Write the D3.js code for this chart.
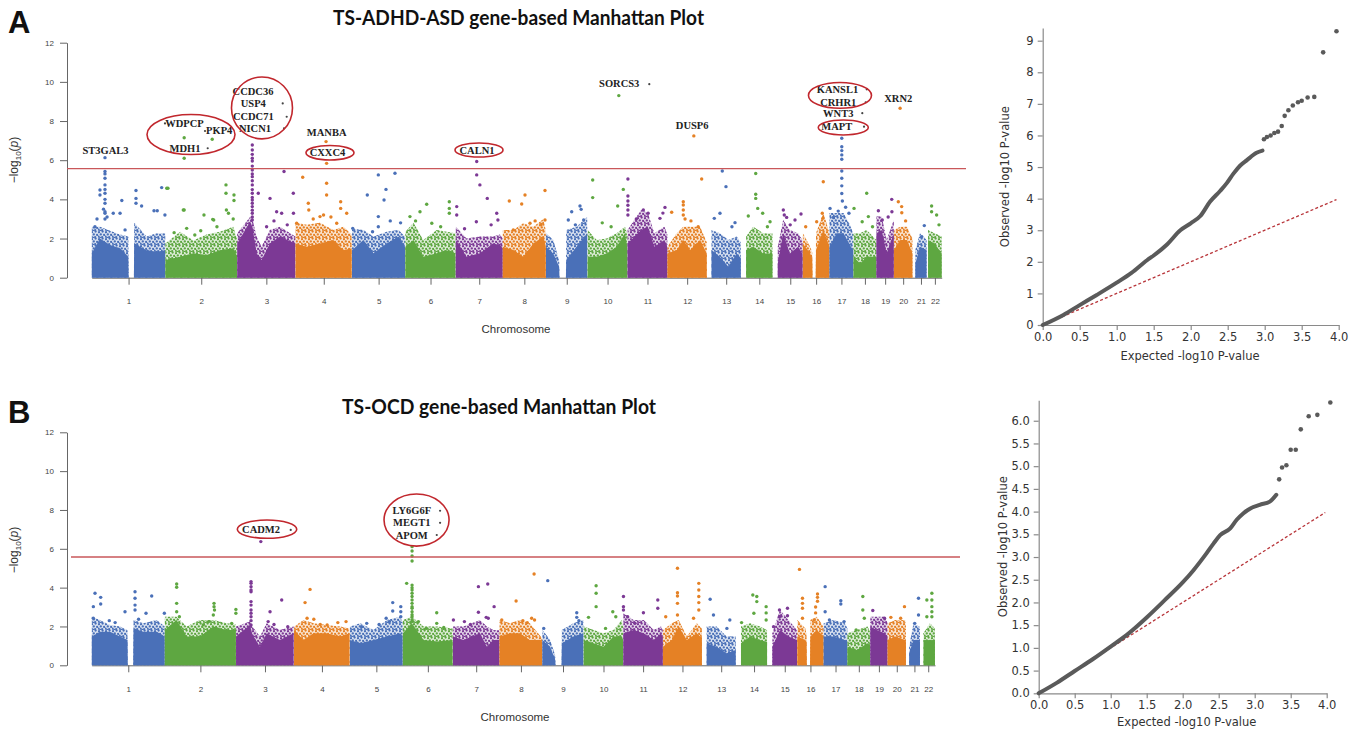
<!DOCTYPE html>
<html>
<head>
<meta charset="utf-8">
<script src="https://cdn.jsdelivr.net/npm/d3@7"></script>
<style>
  body { margin: 0; background: #fff; }
</style>
</head>
<body>
<svg id="fig" width="1358" height="733" style="font-family: 'Liberation Sans', Arial, sans-serif"></svg>
<script>
// ---- chromosome layout (gene span, Mb) ----
var chrNames = ["1","2","3","4","5","6","7","8","9","10","11","12","13","14","15","16","17","18","19","20","21","22"];
var chrStart = [0.5,0.5,0.5,0.5,0.5,0.5,0.5,0.5,0.5,0.5,0.5,0.5,16,18,18,0.5,0.5,0.5,0.5,0.5,10,5];
var chrEnd = [249.2,243.1,197.9,190.9,180.7,170.9,159.1,146.3,141.0,135.4,135.0,133.8,115.1,107.2,102.5,90.2,81.1,78.0,59.1,62.9,48.1,51.2];

// ---- panel A: dense gene cloud, [bp, core top, scatter top] per chromosome ----
var envA = [
  [[0.5,1.25,2.6],[28,2.0,2.6],[62,1.67,2.4],[96,1.5,2.2],[124,1.07,2.1],[125,0,0],[143,0,0],[144,1.75,2.8],[186,1.4,2.1],[220,1.33,2.27],[249,1.4,2.27]],
  [[0.5,0.9,1.75],[50,1.07,2.35],[95,1.25,1.9],[140,1.16,2.2],[185,1.4,2.35],[230,1.5,2.6],[243,1.1,2.0]],
  [[0.5,1.75,2.27],[44,2.86,3.1],[52,2.6,3.0],[66,1.25,2.1],[83,0.9,1.58],[111,1.75,2.44],[145,2.1,2.6],[197,1.75,2.1]],
  [[0.5,1.75,2.8],[38,1.58,2.7],[83,1.75,2.8],[128,1.92,2.44],[162,1.4,2.6],[190,1.5,2.2]],
  [[0.5,1.4,2.5],[39,1.92,2.44],[73,1.25,2.1],[118,1.75,2.35],[158,2.1,2.44],[180,1.58,2.1]],
  [[0.5,1.58,2.35],[28,1.92,2.8],[61,1.07,1.92],[107,1.25,2.44],[140,1.4,2.35],[170,1.25,2.27]],
  [[0.5,1.92,2.6],[37,1.07,2.0],[82,1.25,2.1],[127,1.75,2.1],[150,1.67,2.2],[159,1.5,2.0]],
  [[0.5,1.58,2.44],[36,1.41,2.44],[70,1.07,2.78],[104,1.75,2.6],[138,2.1,3.0],[146,1.6,2.4]],
  [[0.5,1.58,2.27],[25,1.24,1.92],[45,0.56,0.9],[46,0,0],[68,0,0],[69,0.9,2.44],[104,1.58,2.6],[140,2.27,3.1]],
  [[0.5,1.07,2.44],[31,1.07,1.92],[65,1.24,2.0],[99,1.58,2.27],[127,2.27,2.6],[135,1.5,2.2]],
  [[0.5,1.75,2.44],[46,2.44,3.46],[69,2.6,3.3],[91,1.58,2.27],[125,1.92,2.6],[135,1.5,2.2]],
  [[0.5,1.24,1.58],[32,1.41,2.27],[54,1.92,2.6],[77,1.41,2.6],[111,1.92,2.6],[133.5,1.24,1.8]],
  [[16,1.41,2.44],[44,1.07,2.27],[73,0.56,1.92],[101,1.24,2.1],[115,1.0,1.8]],
  [[18,1.41,2.1],[42,1.58,2.6],[76,1.24,2.27],[107,1.24,2.27]],
  [[18,0.73,1.58],[36,2.27,2.95],[59,1.24,2.44],[87,1.58,2.27],[102,1.2,1.9]],
  [[0.5,1.75,2.27],[25,1.24,1.58],[32,1.0,1.3],[33,0,0],[44,0,0],[45,1.41,2.27],[70,2.44,3.3],[90,1.6,2.3]],
  [[0.5,1.58,3.3],[25,2.27,3.3],[48,2.27,3.3],[73,1.58,2.6],[81,1.4,2.2]],
  [[0.5,1.07,2.27],[23,0.73,2.27],[45,1.07,2.44],[78,1.07,1.92]],
  [[0.5,2.27,3.12],[18,2.44,3.12],[35,1.24,1.92],[59,2.27,2.95]],
  [[0.5,1.41,2.44],[22,1.92,2.6],[45,1.92,2.6],[63,1.24,2.0]],
  [[10,0.73,1.41],[26,1.58,2.27],[48,1.41,1.92]],
  [[5,1.92,2.44],[27,1.75,2.27],[51,1.24,2.1]]
];

// ---- panel A: single genes, [chr, bp, [-log10 p ...]] ----
var dotsA = [
  [1,45,[6.13,5.42,5.3,5.08,4.74,4.51,4.31,4.0,3.8,3.37,3.29,3.0]],[1,28,[4.48,4.22]],[1,73,[3.29]],[1,96,[3.29]],[1,102,[3.94]],
  [1,113,[2.44]],[1,11,[2.6]],[1,150,[4.45,4.05,3.8]],[1,169,[3.66]],[1,211,[3.42]],[1,222,[3.42]],[1,237,[4.6]],[1,248,[3.2]],
  [1,40,[3.5]],[1,52,[3.1]],[1,18,[3.0]],
  [2,5,[4.57]],[2,9,[4.57]],[2,64,[7.15,6.1,3.46]],[2,159,[7.07]],[2,61,[3.46]],[2,131,[3.2]],[2,160.6,[2.98]],[2,164,[2.95]],
  [2,205.6,[4.74,4.31]],[2,232.7,[4.22,3.94]],[2,207,[3.46]],[2,214,[3.29]],[2,72.5,[2.52]],[2,100,[2.18]],[2,175,[2.6]],
  [2,30,[2.3]],[2,120,[2.4]],[2,230,[3.0]],
  [3,51.6,[6.78,6.52,6.3,6.1,5.96,5.7,5.5,5.3,5.16,4.95,4.74,4.5,4.31,4.1,3.97,3.8,3.63,3.45,3.29,3.1,2.95]],
  [3,71.9,[4.31]],[3,111.6,[4.05]],[3,134,[3.37]],[3,151,[3.29]],[3,159,[5.42]],[3,190.5,[4.31]],[3,191,[3.29]],
  [3,100,[2.6]],[3,125,[2.9]],[3,170,[2.7]],
  [4,103.5,[6.95]],[4,105.4,[5.84,4.82,4.22]],[4,24.4,[5.13]],[4,4,[2.78]],[4,43.4,[3.8]],[4,45,[3.46]],[4,83,[3.12]],
  [4,153,[3.88,3.54]],[4,173.4,[3.29]],[4,139.6,[2.78]],[4,60,[3.0]],[4,120,[3.1]],[4,95,[3.2]],
  [5,89.6,[5.25,3.12,2.6]],[5,146,[5.33]],[5,115.6,[4.51]],[5,109,[3.97]],[5,52.3,[4.22]],[5,3,[2.52]],[5,70,[2.35]],
  [5,130,[2.9]],[5,165,[2.8]],
  [6,72.7,[3.75]],[6,50,[3.37]],[6,149.3,[3.88,3.54,3.29]],[6,16,[3.12]],[6,90,[2.78]],[6,120,[2.6]],[6,35,[2.9]],
  [7,71.2,[5.93,5.25]],[7,82,[4.74]],[7,107,[4.05]],[7,3.5,[3.63,3.2]],[7,139,[3.29]],[7,143,[2.95]],[7,70,[2.86]],
  [7,120,[2.7]],[7,30,[2.5]],
  [8,22.5,[3.92]],[8,64.5,[3.76]],[8,75.7,[4.22]],[8,143.4,[4.45,2.95]],[8,92.6,[2.78]],[8,36,[2.44]],[8,110,[2.9]],[8,130,[2.7]],
  [9,87.5,[3.37]],[9,115.6,[3.66]],[9,119.5,[3.49]],[9,76,[2.95]],[9,128,[2.95]],[9,100,[2.7]],
  [10,106,[9.3]],[10,17.6,[4.99,4.09]],[10,102.3,[3.66]],[10,121.3,[4.51]],[10,50,[2.8]],[10,80,[2.6]],
  [11,1.5,[5.04,4.17,3.92,3.7,3.46,3.2]],[11,53.7,[3.46]],[11,127,[3.59]],[11,110,[3.03]],[11,70,[3.29]],[11,30,[3.0]],[11,120,[3.3]],
  [12,89.7,[7.24]],[12,54,[3.88,3.71,3.46,3.2]],[12,116.3,[5.04]],[12,14.7,[3.34]],[12,104.5,[2.6]],[12,60,[3.0]],[12,80,[2.9]],
  [13,52.3,[5.45]],[13,64.8,[4.65]],[13,44.5,[3.29]],[13,25.3,[3.03]],[13,95.4,[2.81]],[13,85,[2.6]],
  [14,50.4,[5.32,4.26,4.05]],[14,57.2,[3.54]],[14,74,[3.29]],[14,25.3,[3.15]],[14,99,[2.86]],[14,90,[2.6]],
  [15,36.7,[3.46]],[15,76.3,[2.95]],[15,96.6,[3.25]],[15,48,[3.08]],[15,40,[3.2]],[15,60,[2.7]],
  [16,69.6,[4.9]],[16,66.2,[3.29]],[16,68,[3.03]],[16,47.2,[2.86]],[16,10,[2.6]],
  [17,42,[7.12,6.69,6.49,6.27,6.05,5.45,5.08,4.69,4.3]],[17,44,[3.92]],[17,2.3,[3.54]],[17,13.6,[3.08]],[17,66.2,[3.29]],
  [17,30,[3.4]],[17,55,[3.6]],
  [18,45.3,[4.31]],[18,2.4,[3.54]],[18,50.9,[3.12]],[18,30,[2.86]],[18,65,[2.6]],
  [19,52,[4.0]],[19,6.8,[3.42]],[19,52.7,[3.37]],[19,20,[2.95]],[19,40,[3.1]],
  [20,21.3,[8.65]],[20,15.3,[3.88]],[20,26.6,[3.63]],[20,27,[3.32]],[20,40,[2.9]],
  [21,40.4,[2.66]],[21,31.6,[2.1]],
  [22,17,[3.66,3.37]],[22,34,[3.2]],[22,42,[2.7]]
];

// annotations in genome coordinates (cumulative Mb, -log10 p)
var labelsA = [
  ["ST3GAL3",46.7,6.52],["WDPCP",314.3,7.88],["PKP4",431.8,7.54],["MDH1",316,6.61],
  ["CCDC36",546.3,9.5],["USP4",547.3,8.9],["CCDC71",547.3,8.22],["NICN1",553.1,7.63],
  ["MANBA",795.9,7.43],["CXXC4",798.6,6.37],["CALN1",1304.9,6.52],["SORCS3",1786.5,9.93],
  ["DUSP6",2033.7,7.76],["KANSL1",2525.8,9.59],["CRHR1",2528.5,8.96],["WNT3",2528.5,8.4],
  ["MAPT",2523.1,7.71],["XRN2",2731.7,9.16]
];
var bulletsA = [[248.2,7.88],[383.7,7.49],[392.9,6.61],[646.9,8.9],[660.4,8.22],[651.3,7.63],
  [1888.4,9.88],[2624.7,9.62],[2621.3,8.96],[2609.8,8.4],[2615.6,7.71]];
// [centre gpos, centre value, half width Mb, half height]
var ringsA = [[336.3,7.31,149,1.02],[576.7,8.67,103.3,1.58],[807,6.38,81.3,0.37],
  [1311.7,6.52,81.3,0.36],[2534.2,9.31,106.7,0.66],[2545.4,7.67,84.7,0.38]];
var thresholdA = 5.57;

// ---- panel B ----
var envB = [
  [[0.5,1.48,2.5],[28,1.73,2.33],[62,1.73,2.08],[97,1.48,2.0],[122,1.3,1.8],[123,0,0],[142,0,0],[143,1.9,2.33],[176,1.73,2.16],[222,1.73,2.33],[249,1.48,2.0]],
  [[0.5,1.82,2.5],[40,2.33,2.5],[75,1.48,2.0],[120,1.48,2.33],[166,2.0,2.33],[211,1.82,2.16],[243,1.82,2.1]],
  [[0.5,1.48,2.0],[48,2.08,2.25],[56,1.6,2.0],[82,0.96,1.48],[105,1.65,2.16],[150,1.3,1.82],[197,1.65,2.0]],
  [[0.5,1.82,2.0],[33,1.3,2.33],[67,1.65,2.16],[112,1.65,2.08],[158,1.48,2.0],[190,1.65,1.9]],
  [[0.5,1.3,2.0],[36,1.13,2.16],[81,1.3,1.82],[127,1.48,2.33],[172,1.65,2.5],[180,1.5,2.2]],
  [[0.5,1.65,2.33],[31,2.16,2.5],[71,1.3,2.0],[117,1.22,2.0],[170,1.3,1.9]],
  [[0.5,1.48,2.0],[36,1.3,2.0],[93,1.65,2.33],[116,0.96,2.0],[138,1.3,1.82],[159,1.3,1.8]],
  [[0.5,1.48,2.33],[36,1.65,2.16],[70,1.65,2.33],[104,1.3,2.16],[141,1.3,1.48],[146,1.2,1.4]],
  [[0.5,1.3,1.82],[27,0.96,1.3],[44,0.27,0.5],[45,0,0],[66,0,0],[67,1.13,1.82],[106,1.48,2.16],[140,1.65,2.33]],
  [[0.5,1.3,2.0],[34,1.13,1.82],[68,0.96,1.65],[102,1.48,1.82],[131,1.48,2.33],[135,1.3,2.0]],
  [[0.5,1.65,2.68],[35,1.82,2.33],[70,1.65,2.33],[104,1.3,1.82],[129,1.65,2.0],[135,1.4,1.8]],
  [[0.5,0.96,1.82],[31,1.3,2.16],[54,2.0,2.33],[82,1.3,1.48],[116,1.65,2.16],[133.5,1.4,1.9]],
  [[16,1.13,2.0],[50,0.96,2.0],[84,0.62,1.48],[115,0.79,1.48]],
  [[18,1.13,2.0],[49,1.48,2.16],[83,1.3,2.0],[107,1.2,1.8]],
  [[18,0.96,1.65],[44,1.82,2.85],[73,1.48,2.33],[102,1.3,1.8]],
  [[0.5,1.48,2.33],[28,1.3,1.9],[32,1.2,1.6],[33,0,0],[44,0,0],[45,1.48,2.33],[67,1.82,2.5],[90,1.5,2.0]],
  [[0.5,1.48,2.16],[34,1.48,2.33],[73,1.3,2.16],[81,1.2,1.9]],
  [[0.5,0.96,1.65],[32,0.79,1.82],[69,1.13,2.0],[78,1.0,1.7]],
  [[0.5,2.0,2.5],[23,1.82,2.5],[49,1.65,2.5],[59,1.5,2.2]],
  [[0.5,1.3,2.16],[26,1.48,2.33],[60,1.3,2.33],[63,1.2,2.0]],
  [[11,0.62,0.96],[26,1.3,2.16],[46,1.3,2.0],[48,1.2,1.8]],
  [[12,1.3,1.65],[34,1.3,2.16],[51,1.3,1.9]]
];

var dotsB = [
  [1,11.3,[3.71]],[1,30.7,[3.5,3.16]],[1,5.6,[3.02,2.42]],[1,113.7,[2.76]],[1,147.9,[3.79,3.45,3.1,2.85]],[1,204.8,[3.57]],
  [1,185.4,[2.68]],[1,160,[2.37]],[1,248,[2.68]],[1,80,[2.2]],[1,60,[2.3]],
  [2,40.9,[4.19,4.02,3.19,2.76]],[2,168.4,[3.19,3.02]],[2,170,[2.85]],[2,166,[2.59]],[2,243,[2.88,2.68]],[2,228.7,[2.16]],
  [2,131.5,[2.08]],[2,150,[2.25]],[2,50,[2.5]],
  [3,51.6,[4.31,4.22,4.05,3.88,3.79,3.28,3.1,2.85,2.68,2.5,2.3,2.08]],[3,85,[6.37]],[3,156.3,[3.36]],[3,116.5,[2.76]],
  [3,110,[2.25]],[3,177,[1.99]],[3,130,[2.1]],
  [4,55.2,[3.91]],[4,38.1,[3.23]],[4,45,[2.42]],[4,68,[2.37]],[4,113.6,[2.08]],[4,178,[2.25]],[4,90,[2.1]],[4,150,[2.2]],
  [5,146.5,[3.23,2.8]],[5,174,[3.02,2.76,2.5]],[5,124.1,[2.42]],[5,135,[2.25]],[5,57.7,[2.16]],[5,40,[1.99]],[5,100,[2.1]],
  [6,31.8,[6.11,5.89,5.63,5.37,4.13,4.0,3.88,3.71,3.54,3.36,3.19,3.02,2.94,2.76,2.6,2.5,2.35,2.25]],[6,13.4,[4.22]],
  [6,116,[2.71,2.16]],[6,53.5,[2.25]],[6,80,[1.9]],[6,140,[1.95]],
  [7,87.4,[4.05,2.73]],[7,119.3,[4.19]],[7,39.6,[2.25]],[7,2,[2.33]],[7,114,[2.47]],[7,141,[3.02]],[7,121,[2.42]],[7,60,[2.1]],
  [8,56.9,[3.31]],[8,118.4,[4.7]],[8,110,[2.42]],[8,8,[2.33]],[8,80,[2.3]],[8,120,[2.33]],[8,95,[2.2]],
  [9,18.7,[4.36]],[9,117.7,[2.71,2.47]],[9,125,[2.3]],[9,5,[1.9]],
  [10,42.8,[4.1,3.71,3.02]],[10,16.8,[2.47]],[10,99.7,[2.76]],[10,110,[2.5]],[10,75,[1.9]],
  [11,0.7,[3.54,3.02,2.85]],[11,68.8,[2.71]],[11,117.9,[3.36,2.94]],[11,15,[2.5]],[11,40,[2.16]],
  [12,50.1,[5.0,3.74,3.57,3.19,2.59]],[12,122.9,[4.22,3.88,3.54,3.23,2.85]],[12,105,[2.42]],[12,10,[2.5]],
  [13,27.8,[3.4]],[13,39.2,[2.59]],[13,85,[1.9]],[13,95,[2.33]],
  [14,58.4,[3.62]],[14,72,[3.54,3.28]],[14,103.9,[3.02,2.7,2.33]],[14,62,[2.68]],[14,20,[2.2]],
  [15,42.2,[2.85,2.5]],[15,69.5,[2.94,2.55]],[15,22,[1.99]],
  [16,8,[4.94]],[16,18.2,[3.45,3.19,2.94,2.42]],[16,69.5,[3.67,3.5,3.3]],[16,63,[3.0,2.7]],[16,58,[2.33]],
  [17,5.4,[4.05,2.76]],[17,58.9,[3.33,3.16]],[17,20,[2.33]],[17,70,[2.25]],
  [18,52.9,[3.54,2.85]],[18,58,[2.42]],[18,30,[1.82]],
  [19,9,[2.82]],[19,49,[2.42]],
  [20,11.5,[2.47]],[20,58,[3.02]],[20,45,[2.42]],
  [21,43,[3.45,2.59]],[21,30,[2.16]],
  [22,23.4,[3.36,2.5]],[22,40.5,[3.71,3.36,3.02,2.76,2.5]]
];
var labelsB = [["CADM2",578,6.97],["LY6G6F",1092.5,7.96],["MEGT1",1092.5,7.34],["APOM",1092.5,6.71]];
var bulletsB = [[679.4,6.97],[1189.2,7.96],[1189.2,7.34],[1177.9,6.71]];
var ringsB = [[598.5,7.01,101.4,0.47],[1108.9,7.48,111,1.34]];
var thresholdB = 5.58;

// ---- QQ plots: [expected, observed] ----
var qqCurveA = [[0,0],[0.28,0.32],[0.5,0.63],[0.73,0.95],[1.0,1.34],[1.2,1.65],[1.41,2.05],[1.5,2.2],[1.68,2.55],
  [1.86,3.0],[2.0,3.22],[2.13,3.45],[2.26,3.9],[2.4,4.25],[2.49,4.5],[2.58,4.8],[2.67,5.05],[2.76,5.22],[2.89,5.45],[2.97,5.52]];
var qqTailA = [[2.99,5.88],[3.03,5.95],[3.08,6.0],[3.13,6.08],[3.18,6.12],[3.23,6.3],[3.27,6.62],[3.32,6.8],[3.38,6.95],
  [3.45,7.05],[3.5,7.1],[3.58,7.2],[3.67,7.22],[3.79,8.63],[3.97,9.3]];
var qqCurveB = [[0,0],[0.25,0.23],[0.5,0.49],[0.75,0.75],[1.0,1.03],[1.25,1.32],[1.5,1.67],[1.75,2.05],[2.0,2.44],
  [2.15,2.71],[2.33,3.08],[2.43,3.3],[2.52,3.48],[2.66,3.63],[2.75,3.82],[2.84,3.96],[2.94,4.07],[3.07,4.15],[3.21,4.22],[3.3,4.37]];
var qqTailB = [[3.34,4.71],[3.38,4.97],[3.44,5.02],[3.5,5.36],[3.57,5.36],[3.64,5.81],[3.75,6.1],[3.87,6.13],[4.05,6.4]];

var palette = ["#4a70b8", "#5ea741", "#7c3995", "#e58125"];
var svg = d3.select("#fig");
var SERIF = "'Liberation Serif', 'Times New Roman', serif";
var DEJAVU = "'DejaVu Sans', sans-serif";

// speckle fills for the sparse upper part of each cloud
var defs = svg.append("defs");
palette.forEach(function (col, i) {
    var p = defs.append("pattern").attr("id", "speck" + i)
        .attr("patternUnits", "userSpaceOnUse").attr("width", 7).attr("height", 7);
    [[1, 1.2], [4.6, 0.6], [2.8, 3.4], [6.1, 3.9], [0.6, 5.6], [4.2, 6.2], [2.2, 6.9]].forEach(function (c) {
        p.append("circle").attr("cx", c[0]).attr("cy", c[1]).attr("r", 1.15).attr("fill", col);
    });
});

// cumulative chromosome offsets
var chrOffset = [], acc = 0;
chrEnd.forEach(function (e) { chrOffset.push(acc); acc += e; });
var genomeLen = acc;

function manhattan(o) {
    var g = svg.append("g");
    var x = d3.scaleLinear().domain([0, genomeLen]).range(o.xRange);
    var y = d3.scaleLinear().domain([0, 12]).range(o.yRange);
    var gp = function (c, bp) { return chrOffset[c - 1] + bp; };

    // y axis
    var ya = g.append("g")
        .attr("transform", "translate(" + o.axisX + ",0)")
        .call(d3.axisLeft(y).tickValues([0, 2, 4, 6, 8, 10, 12]).tickSize(7).tickSizeOuter(0).tickPadding(6));
    // x axis at chromosome midpoints
    var xa = g.append("g")
        .attr("transform", "translate(0," + y(0) + ")")
        .call(d3.axisBottom(x)
            .tickValues(chrNames.map(function (n, i) { return chrOffset[i] + (chrStart[i] + chrEnd[i]) / 2; }))
            .tickFormat(function (d, i) { return chrNames[i]; })
            .tickSize(7).tickSizeOuter(0).tickPadding(14));
    [ya, xa].forEach(function (a) {
        a.selectAll("path, line").attr("stroke", "#666");
        a.selectAll("text").attr("font-size", 8).attr("fill", "#444")
            .style("font-family", "'Liberation Sans', Arial, sans-serif");
    });

    // dense clouds
    o.env.forEach(function (prof, i) {
        var col = palette[i % 4];
        var ax = function (d) { return x(gp(i + 1, d[0])); };
        g.append("path").datum(prof).attr("fill", col).attr("opacity", 0.22)
            .attr("d", d3.area().x(ax).y0(y(0)).y1(function (d) { return y(d[2]); }));
        g.append("path").datum(prof).attr("fill", "url(#speck" + (i % 4) + ")")
            .attr("d", d3.area().x(ax).y0(y(0)).y1(function (d) { return y(d[2]); }));
        g.append("path").datum(prof).attr("fill", col)
            .attr("d", d3.area().x(ax).y0(y(0)).y1(function (d) { return y(d[1]); }));
    });

    // single genes
    var pts = o.dots.flatMap(function (d) { return d[2].map(function (v) { return [d[0], d[1], v]; }); });
    g.selectAll("circle.gene").data(pts).enter().append("circle")
        .attr("class", "gene")
        .attr("cx", function (d) { return x(gp(d[0], d[1])); })
        .attr("cy", function (d) { return y(d[2]); })
        .attr("r", 1.7)
        .attr("fill", function (d) { return palette[(d[0] - 1) % 4]; });

    // significance line
    g.append("line")
        .attr("x1", o.lineX[0]).attr("x2", o.lineX[1])
        .attr("y1", y(o.threshold)).attr("y2", y(o.threshold))
        .attr("stroke", "#c9575a").attr("stroke-width", 1.4);

    // gene names, bullets, red rings
    g.selectAll("text.gname").data(o.labels).enter().append("text")
        .attr("class", "gname")
        .attr("x", function (d) { return x(d[1]); })
        .attr("y", function (d) { return y(d[2]); })
        .attr("text-anchor", "middle").attr("dominant-baseline", "central")
        .style("font-family", SERIF)
        .attr("font-weight", "bold").attr("font-size", 10.5).attr("fill", "#222")
        .text(function (d) { return d[0]; });
    g.selectAll("circle.bullet").data(o.bullets).enter().append("circle")
        .attr("cx", function (d) { return x(d[0]); })
        .attr("cy", function (d) { return y(d[1]); })
        .attr("r", 1.1).attr("fill", "#444");
    g.selectAll("ellipse").data(o.rings).enter().append("ellipse")
        .attr("cx", function (d) { return x(d[0]); })
        .attr("cy", function (d) { return y(d[1]); })
        .attr("rx", function (d) { return x(d[2]) - x(0); })
        .attr("ry", function (d) { return y(0) - y(d[3]); })
        .attr("fill", "none").attr("stroke", "#c1272d").attr("stroke-width", 1.6);

    // axis titles
    var yl = g.append("text")
        .attr("transform", "translate(" + o.ylabel[0] + "," + o.ylabel[1] + ") rotate(-90)")
        .attr("text-anchor", "middle").attr("font-size", 12).attr("fill", "#333");
    yl.append("tspan").text("\u2212log");
    yl.append("tspan").attr("font-size", 8).attr("dy", 3).text("10");
    yl.append("tspan").attr("dy", -3).text("(");
    yl.append("tspan").attr("font-style", "italic").text("p");
    yl.append("tspan").text(")");
    g.append("text").attr("x", o.xlabel[0]).attr("y", o.xlabel[1])
        .attr("text-anchor", "middle").attr("font-size", 11.5).attr("fill", "#333")
        .text("Chromosome");

    g.append("text").attr("x", o.title[0]).attr("y", o.title[1])
        .attr("text-anchor", "middle")
        .style("font-family", "Lato, 'Open Sans', sans-serif").attr("font-weight", "bold")
        .attr("font-size", 20).attr("fill", "#111")
        .attr("textLength", o.title[2]).attr("lengthAdjust", "spacingAndGlyphs")
        .text(o.title[3]);
    g.append("text").attr("x", 8).attr("y", o.letterY)
        .attr("font-weight", "bold").attr("font-size", 31).attr("fill", "#111")
        .text(o.letter);
}

function qqplot(o) {
    var g = svg.append("g");
    var x = d3.scaleLinear().domain([0, 4]).range(o.xRange);
    var y = d3.scaleLinear().domain([0, o.yTop]).range(o.yRange);

    var xa = g.append("g").attr("transform", "translate(0," + o.yRange[0] + ")")
        .call(d3.axisBottom(x).tickValues([0, 0.5, 1, 1.5, 2, 2.5, 3, 3.5, 4]).tickFormat(d3.format(".1f"))
            .tickSize(5).tickSizeOuter(0).tickPadding(3));
    var ya = g.append("g").attr("transform", "translate(" + o.xRange[0] + ",0)")
        .call(d3.axisLeft(y).tickValues(o.yTicks).tickFormat(d3.format(o.yFmt))
            .tickSize(5).tickSizeOuter(0).tickPadding(4));
    [xa, ya].forEach(function (a) {
        a.selectAll("path, line").attr("stroke", "#8a8a8a").attr("stroke-width", 1.2);
        a.selectAll("text").style("font-family", DEJAVU)
            .attr("font-size", 11.5).attr("fill", "#333");
    });

    g.append("line")
        .attr("x1", x(0)).attr("y1", y(0)).attr("x2", x(o.diag)).attr("y2", y(o.diag))
        .attr("stroke", "#b8353a").attr("stroke-width", 1.3).attr("stroke-dasharray", "3,2.2");

    g.append("path").datum(o.curve)
        .attr("fill", "none").attr("stroke", "#5a5a5a").attr("stroke-width", 4)
        .attr("stroke-linecap", "round").attr("stroke-linejoin", "round")
        .attr("d", d3.line().curve(d3.curveMonotoneX)
            .x(function (d) { return x(d[0]); }).y(function (d) { return y(d[1]); }));
    g.selectAll("circle").data(o.tail).enter().append("circle")
        .attr("cx", function (d) { return x(d[0]); })
        .attr("cy", function (d) { return y(d[1]); })
        .attr("r", 2.3).attr("fill", "#5a5a5a");

    g.append("text").attr("x", o.xlabel[0]).attr("y", o.xlabel[1])
        .attr("text-anchor", "middle").style("font-family", DEJAVU)
        .attr("font-size", 11.5).attr("fill", "#333").text("Expected -log10 P-value");
    g.append("text")
        .attr("transform", "translate(" + o.ylabel[0] + "," + o.ylabel[1] + ") rotate(-90)")
        .attr("text-anchor", "middle").style("font-family", DEJAVU)
        .attr("font-size", 11.5).attr("fill", "#333").text("Observed -log10 P-value");
}

manhattan({
    xRange: [91.7, 941.7], yRange: [277.7, 42.7], axisX: 67, lineX: [67, 966],
    env: envA, dots: dotsA, labels: labelsA, bullets: bulletsA, rings: ringsA, threshold: thresholdA,
    ylabel: [18, 160], xlabel: [516, 333],
    title: [518.5, 25, 371, "TS-ADHD-ASD gene-based Manhattan Plot"], letter: "A", letterY: 33
});
manhattan({
    xRange: [91.7, 935], yRange: [665.3, 432.3], axisX: 67, lineX: [71, 960],
    env: envB, dots: dotsB, labels: labelsB, bullets: bulletsB, rings: ringsB, threshold: thresholdB,
    ylabel: [18, 550], xlabel: [515, 721],
    title: [499, 414, 314, "TS-OCD gene-based Manhattan Plot"], letter: "B", letterY: 423
});
qqplot({
    xRange: [1042.7, 1338.7], yRange: [325, 28.05], yTop: 9.4,
    yTicks: [0, 1, 2, 3, 4, 5, 6, 7, 8, 9], yFmt: "d", diag: 3.97,
    curve: qqCurveA, tail: qqTailA, xlabel: [1190, 360], ylabel: [1009, 176.7]
});
qqplot({
    xRange: [1038.7, 1326.7], yRange: [693.3, 400.3], yTop: 6.45,
    yTicks: [0, 0.5, 1, 1.5, 2, 2.5, 3, 3.5, 4, 4.5, 5, 5.5, 6], yFmt: ".1f", diag: 3.98,
    curve: qqCurveB, tail: qqTailB, xlabel: [1186.7, 726], ylabel: [1007, 546.7]
});
</script>
</body>
</html>
